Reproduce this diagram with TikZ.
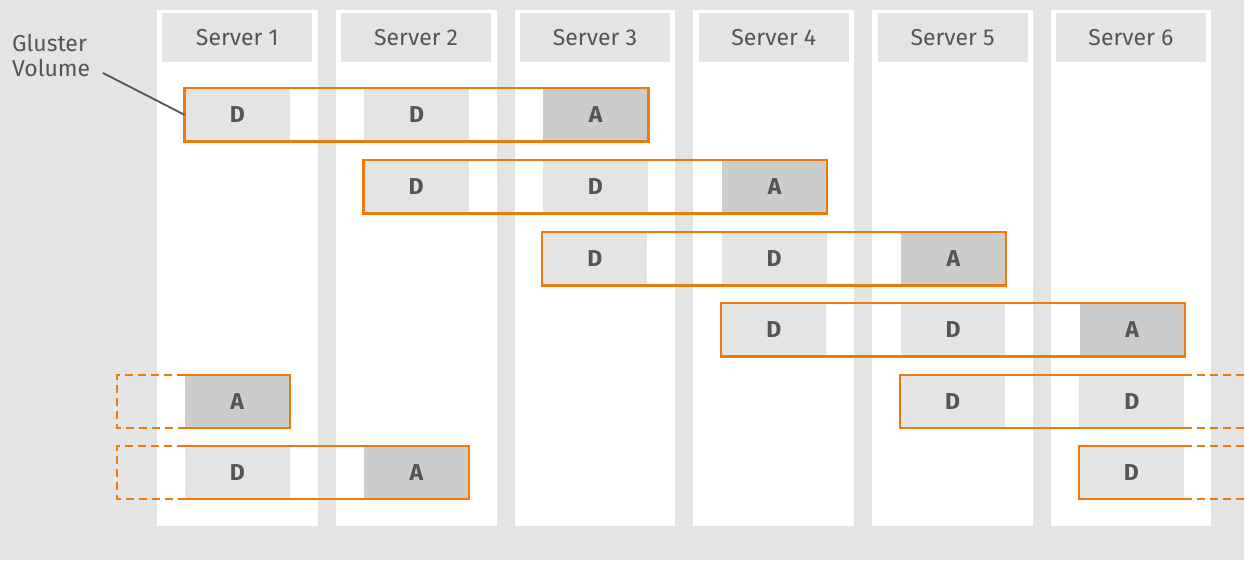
\documentclass[tikz,border=0pt]{standalone}
\usepackage{fontspec}
\setmainfont{Fira Sans}
\usetikzlibrary{positioning}
\definecolor{bggray}{HTML}{E4E4E4}
\definecolor{agray}{HTML}{CCCCCC}
\definecolor{volorange}{HTML}{EE7A0E}
\definecolor{txtgray}{HTML}{555555}
\tikzset{
    server/.style={
           fill=white,
           minimum width=161pt, minimum height=516pt,
           inner sep=0pt, anchor=north,
           },
}
\tikzset{
    head/.style={
           fill=bggray, text=txtgray,
           minimum width=150pt, minimum height=49pt,
           inner sep=0pt,
           font=\fontsize{23}{25}\selectfont,
           },
}
\tikzset{
    dbrick/.style={
           fill=bggray, text=txtgray,
           minimum width=105pt, minimum height=53pt,
           inner sep=0pt,
           font=\fontsize{23}{25}\selectfont\bfseries,
           },
    abrick/.style={dbrick, fill=agray},
    vol/.style={draw=volorange, line width=2.4pt},
    voldash/.style={vol, dash pattern=on 8pt off 5pt},
}

\begin{document}
\begin{tikzpicture}[x=1pt,y=-1pt]
\fill[bggray] (0,0) rectangle (1245,561);
% servers
\foreach \i/\x in {1/237.5,2/416.5,3/595.5,4/774.5,5/953.5,6/1132}{
  \node[server] (s\i) at (\x,10) {};
  \node[head, below=3pt of s\i.north] (h\i) {Server \i};
}
% volumes 1-4
\foreach \r/\y in {1/115,2/187,3/259,4/330}{
  \node[dbrick] (b\r1) at ({237.5+179*(\r-1)},\y) {D};
  \node[dbrick, right=74pt of b\r1] (b\r2) {D};
  \node[abrick, right=74pt of b\r2] (b\r3) {A};
  \draw[vol] (b\r1.north west) rectangle (b\r3.south east);
}
% volume 5
\node[abrick] (b51) at (237.5,402) {A};
\node[dbrick] (b52) at (953.5,402) {D};
\node[dbrick, right=74pt of b52] (b53) {D};
\coordinate (l5) at (117,0);
\coordinate (r5) at (1245,0);
\draw[vol] (b51.north west) -- (b51.north east) -- (b51.south east) -- (b51.south west);
\draw[voldash] (b51.north west) -- (l5 |- b51.north) -- (l5 |- b51.south) -- (b51.south west);
\draw[vol] (b53.north east) -- (b52.north west) -- (b52.south west) -- (b53.south east);
\draw[voldash] (b53.north east) -- (r5 |- b53.north);
\draw[voldash] (b53.south east) -- (r5 |- b53.south);
% volume 6
\node[dbrick] (b61) at (237.5,473) {D};
\node[abrick, right=74pt of b61] (b62) {A};
\node[dbrick] (b63) at (1132.5,473) {D};
\draw[vol] (b61.north west) -- (b62.north east) -- (b62.south east) -- (b61.south west);
\draw[voldash] (b61.north west) -- (l5 |- b61.north) -- (l5 |- b61.south) -- (b61.south west);
\draw[vol] (b63.north east) -- (b63.north west) -- (b63.south west) -- (b63.south east);
\draw[voldash] (b63.north east) -- (r5 |- b63.north);
\draw[voldash] (b63.south east) -- (r5 |- b63.south);
% label
\node[text=txtgray, align=left, anchor=north west, inner sep=0pt,
      font=\fontsize{23}{25}\selectfont] (gv) at (12,34) {Gluster\\Volume};
\coordinate (gvl) at (103,73);
\draw[txtgray, line width=1.8pt] (gvl) -- (b11.west);
\end{tikzpicture}
\end{document}
